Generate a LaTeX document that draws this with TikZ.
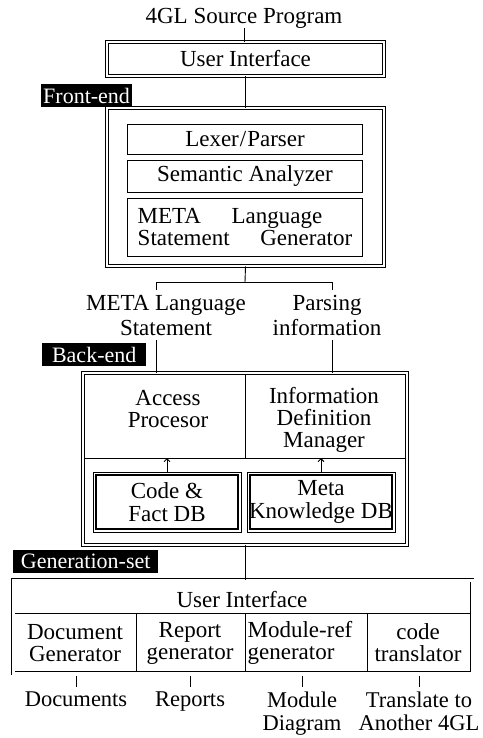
\documentclass[tikz,border=0pt]{standalone}
\usepackage{fontspec}
\setmainfont{Liberation Serif}
\usetikzlibrary{arrows.meta}
\newcommand\mfont{\fontsize{23}{22.5}\selectfont}
\newcommand\lfont{\fontsize{22}{22}\selectfont}
\begin{document}
\begin{tikzpicture}[x=1pt,y=-1pt,
  every node/.style={font=\mfont, inner sep=0pt},
  wire/.style={line width=0.9pt},
  dbl/.style={draw, line width=0.9pt, double, double distance=2pt},
  sgl/.style={draw, line width=0.9pt},
  dbbox/.style={draw, line width=0.7pt, align=center},
  lbl/.style={fill=black, text=white, font=\lfont, inner xsep=2pt, inner ysep=1pt, anchor=north west, minimum height=23pt},
  txt/.style={align=center},
  tip/.style={wire, -{Straight Barb[length=3pt,width=6pt]}}
]
\useasboundingbox (0,0) rectangle (482,738);
\fill[white] (0,0) rectangle (482,738);

% top
\node (src) at (244,18) {4GL Source Program};
\node[dbl, minimum width=277, minimum height=34] (ui) at (245.5,59) {User Interface};
\draw[wire] (src.south) -- (src.south |- ui.north);

% front-end
\node[lbl, minimum width=89] (fel) at (41,84) {Front-end};
\node[dbl, minimum width=277, minimum height=158] (fe) at (245.5,187) {};
\draw[wire] (ui.south) -- (fe.north);
\node[sgl, minimum width=235, minimum height=30] (lex) at (245,139) {Lexer\kern1pt/\kern1pt Parser};
\node[sgl, minimum width=235, minimum height=32] (sem) at (245,176) {Semantic Analyzer};
\node[sgl, minimum width=235, minimum height=58, align=left] (mlg) at (245,227) {META\hspace{1.33em}Language\\Statement\hspace{1.33em}Generator};

% bracket
\coordinate (bj) at (245,282);
\coordinate (bl) at (156,282);
\coordinate (br) at (332,282);
\draw[wire] (fe.south) -- (bj);
\draw[wire] ([yshift=-8pt]bl) -- (bl) -- (br) -- ([yshift=-8pt]br);
\node[txt, font=\fontsize{23}{25}\selectfont] (mls) at (166,315.5) {META Language\\Statement};
\node[txt, font=\fontsize{23}{25}\selectfont] (pin) at (327,315.5) {Parsing\\information};

% back-end
\node[lbl, minimum width=104] (bel) at (42,343) {Back-end};
\node[dbl, minimum width=324, minimum height=172] (be) at (245,459) {};
\coordinate (ml) at (156,340);
\coordinate (pl) at (332,340);
\draw[wire] (ml) -- (ml |- be.north);
\draw[wire] (pl) -- (pl |- be.north);
\coordinate (hL) at (84,458);
\coordinate (hR) at (406,458);
\coordinate (vT) at (245,375);
\coordinate (vB) at (245,458);
\draw[wire] (hL) -- (hR);
\draw[wire] (vT) -- (vB);
\node[txt, font=\fontsize{23}{22}\selectfont] (ap) at (168,409) {Access\\Procesor};
\node[txt, font=\fontsize{23}{22}\selectfont] (idm) at (324,420) {Information\\Definition\\Manager};
\node[dbbox, minimum width=148, minimum height=60] (cdb) at (167,502) {Code \&\\Fact DB};
\node[dbbox, minimum width=148, minimum height=60] (mdb) at (321,502) {Meta\\Knowledge DB};
\draw[line width=2pt] ([shift={(3.5,3.5)}]cdb.north west) rectangle ([shift={(-3.5,-3.5)}]cdb.south east);
\draw[line width=2pt] ([shift={(3.5,3.5)}]mdb.north west) rectangle ([shift={(-3.5,-3.5)}]mdb.south east);
\draw[tip] (cdb.north) -- (cdb.north |- hL);
\draw[tip] (mdb.north) -- (mdb.north |- hL);

% generation set
\node[lbl, minimum width=145] (gsl) at (13,550) {Generation-set};
\node[draw, line width=0.9pt, double, double distance=3pt, minimum width=459, minimum height=93] (gen) at (242.5,626.5) {};
\draw[wire] (be.south) -- (be.south |- gen.north);
\coordinate (sL) at (15,613);
\coordinate (sR) at (470,613);
\draw[wire] (sL) -- (sR);
\coordinate (c1) at (136,613);
\coordinate (c2) at (245,613);
\coordinate (c3) at (367,613);
\coordinate (gi) at ([yshift=2pt]gen.south);
\draw[wire] (c1) -- (c1 |- gi);
\draw[wire] (c2) -- (c2 |- gi);
\draw[wire] (c3) -- (c3 |- gi);
\node (gui) at (242,600) {User Interface};
\node[txt, font=\fontsize{23}{22}\selectfont] (dg) at (75,643) {Document\\Generator};
\node[txt, font=\fontsize{23}{22}\selectfont] (rg) at (190,643) {Report\\generator};
\node[align=left, font=\fontsize{23}{22}\selectfont] (mg) at (300,643) {Module-ref\\generator};
\node[txt, font=\fontsize{23}{22}\selectfont] (ct) at (418,643) {code\\translator};

% outputs
\tikzset{outl/.style={align=center, anchor=north, font=\fontsize{22.5}{22.5}\selectfont}}
\node[outl] (docs) at (76,692) {Documents};
\node[outl] (reps) at (190,692) {Reports};
\node[outl] (mdia) at (302,692) {Module\\Diagram};
\node[outl] (tran) at (419,692) {Translate to\\Another 4GL};
\coordinate (gb) at ([yshift=-2.4pt]gen.south);
\draw[wire] (gb -| docs.north) -- ([yshift=5pt]docs.north);
\draw[wire] (gb -| reps.north) -- ([yshift=5pt]reps.north);
\draw[wire] (gb -| mdia.north) -- ([yshift=5pt]mdia.north);
\draw[wire] (gb -| tran.north) -- ([yshift=5pt]tran.north);
\end{tikzpicture}
\end{document}
